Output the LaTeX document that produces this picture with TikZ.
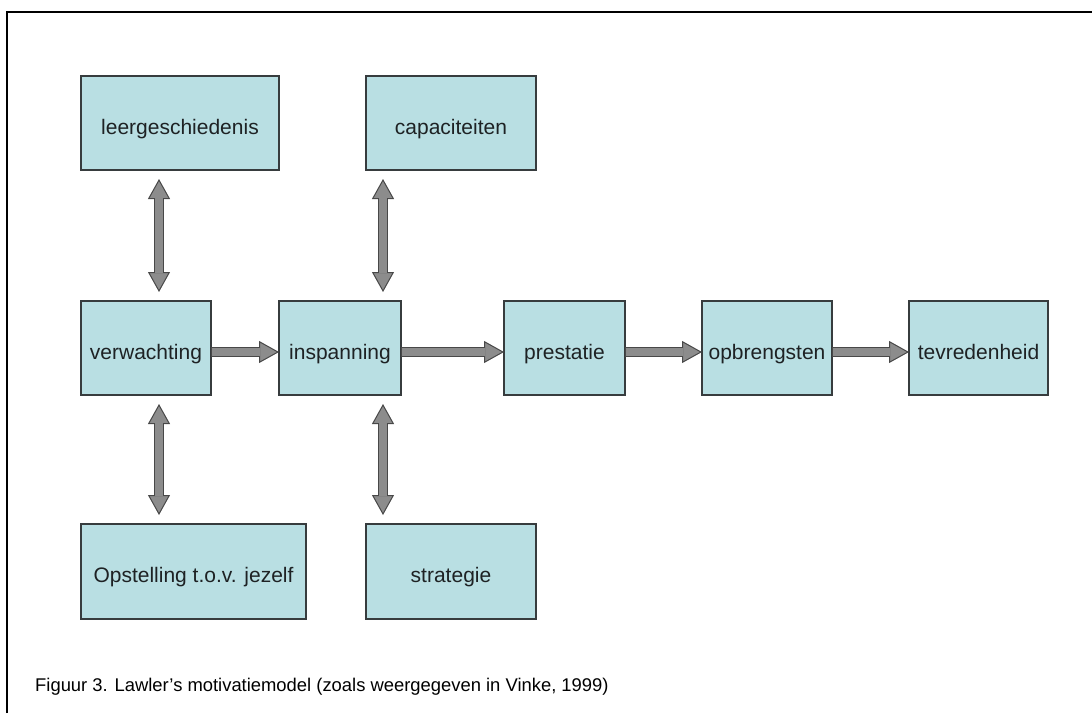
\documentclass[tikz,border=0pt]{standalone}
\usepackage{fontspec}
\setmainfont{Liberation Sans}
\usetikzlibrary{arrows.meta}

\definecolor{boxfill}{RGB}{185,223,227}
\definecolor{boxedge}{RGB}{55,60,62}
\definecolor{arrowfill}{RGB}{140,140,140}
\definecolor{arrowedge}{RGB}{72,72,72}
\definecolor{textdark}{RGB}{30,34,36}

\begin{document}
\begin{tikzpicture}[
  x=1pt, y=-1pt,
  box/.style={rectangle, draw=boxedge, line width=1.3pt, fill=boxfill, text=textdark,
    inner sep=0pt, outer sep=0pt, minimum height=94pt, text height=22pt, text depth=0pt,
    font=\fontsize{21}{25}\selectfont},
  flowarrow/.style={line width=10pt, draw=arrowedge,
    -{Triangle[length=20pt 0, width=22pt 0, line width=1pt 0, fill=arrowfill]},
    postaction={draw=arrowfill, line width=8pt, -, shorten >=19pt, shorten <=0.7pt}},
  dblarrow/.style={line width=10pt, draw=arrowedge, shorten <=9pt, shorten >=9pt,
    {Triangle[length=20pt 0, width=22pt 0, line width=1pt 0, fill=arrowfill]}-{Triangle[length=20pt 0, width=22pt 0, line width=1pt 0, fill=arrowfill]},
    postaction={draw=arrowfill, line width=8pt, -, shorten >=28pt, shorten <=28pt}},
  frameline/.style={draw=black, line width=2pt}
]
\useasboundingbox (0,0) rectangle (1092,713);

% frame, only top and left edge are in view
\draw[frameline] (7,713) |- (1092,12);

% top row
\node[box, minimum width=198pt] (leer) at (180,123) {leergeschiedenis};
\node[box, minimum width=170pt] (capa) at (451,123) {capaciteiten};

% main chain
\node[box, minimum width=130pt] (verw) at (146,348) {verwachting};
\node[box, minimum width=122pt] (insp) at (340,348) {inspanning};
\node[box, minimum width=121pt] (pres) at (564.5,348) {prestatie};
\node[box, minimum width=130pt] (opbr) at (767,348) {opbrengsten};
\node[box, minimum width=139pt] (tevr) at (978.5,348) {tevredenheid};

% bottom row
\node[box, minimum width=225pt, minimum height=95pt] (opst) at (193.5,571.5) {Opstelling t.o.v. jezelf};
\node[box, minimum width=170pt, minimum height=95pt] (strat) at (451,571.5) {strategie};

% arrows along the chain
\draw[flowarrow] ([yshift=-4pt]verw.east) -- ([yshift=-4pt]insp.west);
\draw[flowarrow] ([yshift=-4pt]insp.east) -- ([yshift=-4pt]pres.west);
\draw[flowarrow] ([yshift=-4pt]pres.east) -- ([yshift=-4pt]opbr.west);
\draw[flowarrow] ([yshift=-4pt]opbr.east) -- ([yshift=-4pt]tevr.west);

% two-way arrows
\draw[dblarrow] ([xshift=78pt]leer.south west) -- ([xshift=78pt]verw.north west);
\draw[dblarrow] ([xshift=78pt]verw.south west) -- ([xshift=78pt]opst.north west);
\draw[dblarrow] ([xshift=17pt]capa.south west) -- ([xshift=17pt]capa.south west |- insp.north);
\draw[dblarrow] ([xshift=17pt]strat.north west |- insp.south) -- ([xshift=17pt]strat.north west);

% caption
\node[anchor=west, inner sep=0pt, font=\fontsize{18.4}{22}\selectfont] (caption) at (35,687)
  {Figuur 3. Lawler’s motivatiemodel (zoals weergegeven in Vinke, 1999)};
\end{tikzpicture}
\end{document}
